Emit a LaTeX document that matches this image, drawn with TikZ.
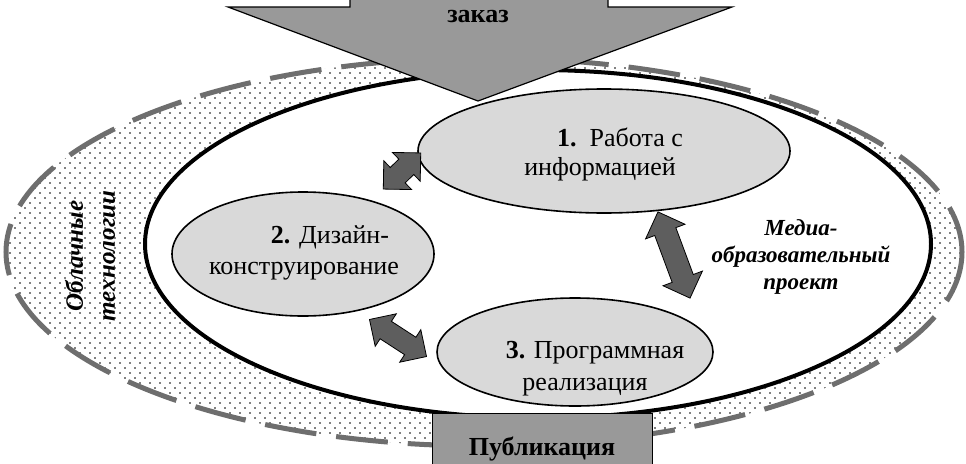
\documentclass[tikz,border=0pt]{standalone}
\usepackage{fontspec}
\setmainfont{Liberation Serif}
\usetikzlibrary{shapes.geometric,shapes.arrows,patterns}
\definecolor{arrowgray}{gray}{0.37}
\definecolor{biggray}{gray}{0.60}
\definecolor{stagegray}{gray}{0.85}
\definecolor{dashgray}{gray}{0.43}
\pgfdeclarepatternformonly{sparsedots}{\pgfqpoint{-1pt}{-1pt}}{\pgfqpoint{7pt}{7pt}}{\pgfqpoint{10pt}{10pt}}{%
  \pgfpathcircle{\pgfqpoint{0pt}{0pt}}{0.8pt}%
  \pgfpathcircle{\pgfqpoint{5pt}{5pt}}{0.8pt}%
  \pgfusepath{fill}}
\begin{document}
\begin{tikzpicture}[x=1pt,y=-1pt,
  stage/.style={ellipse, draw=black, line width=1.6pt, fill=stagegray, inner sep=0pt},
  twoway/.style={double arrow, draw=black, line width=0.8pt, fill=arrowgray, inner sep=0pt,
    inner ysep=10pt, minimum width=38pt, double arrow head extend=9pt},
  lbl/.style={font=\fontsize{26}{30}\selectfont, anchor=base, inner sep=0pt},
  blbl/.style={font=\bfseries\fontsize{26}{30}\selectfont, anchor=base, inner sep=0pt},
  itlbl/.style={font=\bfseries\itshape\fontsize{23}{27}\selectfont, align=center, inner sep=0pt}]
\useasboundingbox (0,0) rectangle (966,463);
\clip (0,0) rectangle (966,463);
% cloud ring
\node[ellipse, minimum width=956pt, minimum height=388pt, inner sep=0pt,
  pattern=sparsedots] (cloud) at (484,252) {};
\draw[dashgray, line width=5pt, dash pattern=on 52pt off 20pt]
  (484,252) ellipse [x radius=478, y radius=194];
% project ellipse
\node[ellipse, minimum width=786pt, minimum height=348pt, inner sep=0pt,
  draw=black, line width=4pt, fill=white] (proj) at (538,244) {};
% top arrow
\filldraw[fill=biggray, draw=black, line width=1.2pt]
  (350,-30) -- (350,7) -- (228,7) -- (478,101) -- (732,7) -- (608,7) -- (608,-30) -- cycle;
\node[blbl] (order) at (478,22) {заказ};
% stages
\node[stage, minimum width=372pt, minimum height=124pt] (e1) at (604,151) {};
\node[stage, minimum width=262pt, minimum height=124pt] (e2) at (303,254) {};
\node[stage, minimum width=276pt, minimum height=108pt] (e3) at (575,352) {};
\node[lbl] (t1a) at (620,146) {\textbf{1.}\enspace Работа с};
\node[lbl] (t1b) at (600,175) {информацией};
\node[lbl] (t2a) at (330,243) {\textbf{2.} Дизайн-};
\node[lbl] (t2b) at (304,274) {конструирование};
\node[lbl] (t3a) at (595,358) {\textbf{3.} Программная};
\node[lbl] (t3b) at (585,390) {реализация};
% two-way arrows
\node[twoway, minimum height=52pt, minimum width=40pt, rotate=44] (a12) at (402,171) {};
\node[twoway, minimum height=92pt, minimum width=42pt, rotate=-69.6] (a13) at (674,255) {};
\node[twoway, minimum height=68pt, rotate=-33] (a23) at (398,338) {};
% publication
\node[draw=black, line width=1pt, fill=biggray, minimum width=220pt, minimum height=80pt,
  anchor=north, inner sep=0pt] (pub) at (542,413) {};
\node[blbl] (pubtext) at (542,455) {Публикация};
% side labels
\node[itlbl] (media) at (801,257) {Медиа-\\образовательный\\проект};
\node[itlbl, font=\bfseries\itshape\fontsize{25}{32}\selectfont, rotate=90] (cloudtxt) at (90,256) {Облачные\\технологии};
\end{tikzpicture}
\end{document}
